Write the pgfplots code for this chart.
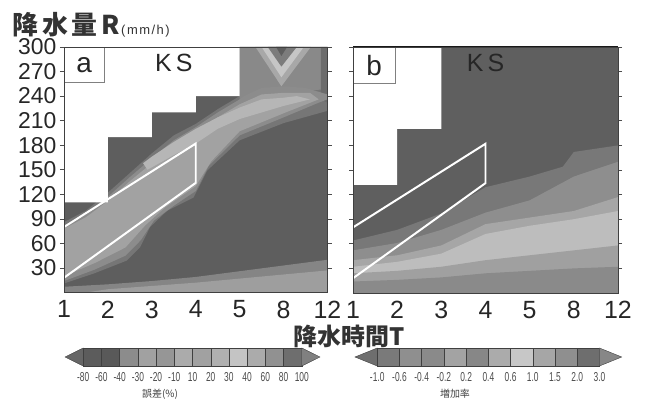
\documentclass[border=0pt]{standalone}
\usepackage{fontspec}
\setmainfont{Liberation Sans}
\newfontfamily\cjk{Noto Sans CJK JP}
\newfontfamily\narrowfont{Liberation Sans}[FakeStretch=0.65]
\usepackage{pgfplots}
\pgfplotsset{compat=1.18}
% panel a greys
\definecolor{aBg}{HTML}{5E5E5E}
\definecolor{aB1}{HTML}{858585}
\definecolor{aB2}{HTML}{9E9E9E}
\definecolor{aL1}{HTML}{767676}
\definecolor{aL2}{HTML}{8C8C8C}
\definecolor{aL3}{HTML}{A2A2A2}
\definecolor{aL4}{HTML}{B6B6B6}
\definecolor{aTop}{HTML}{898989}
\definecolor{aEdge}{HTML}{6C6C6C}
\definecolor{aV1}{HTML}{A8A8A8}
\definecolor{aV2}{HTML}{C6C6C6}
\definecolor{aV3}{HTML}{7C7C7C}
% panel b greys
\definecolor{bBg}{HTML}{5F5F5F}
\definecolor{bL1}{HTML}{787878}
\definecolor{bL2}{HTML}{8E8E8E}
\definecolor{bL3}{HTML}{A6A6A6}
\definecolor{bL4}{HTML}{BDBDBD}
\definecolor{bL5}{HTML}{A0A0A0}
\definecolor{bL6}{HTML}{8A8A8A}
\pgfplotsset{
  panel/.style={
    anchor=south west, scale only axis,
    xmin=0, xmax=6, ymin=0, ymax=300,
    xtick={0,...,6}, xticklabels={1,2,3,4,5,8,12},
    ytick={30,60,...,300},
    tick align=outside, major tick length=4bp,
    xtick style={draw=none},
    ytick style={black!70, line width=0.6pt},
    yticklabel style={font=\fontsize{23}{23}\selectfont, text=black!85},
    xticklabel style={font=\fontsize{25}{25}\selectfont, text=black!85, inner sep=2bp, yshift=-2bp},
    axis line style={black!75, line width=0.8pt},
    axis on top,
  },
  cbar/.style={
    anchor=south west, scale only axis, height=18bp,
    ymin=0, ymax=1, ytick=\empty,
    axis line style={draw=none}, xtick style={draw=none},
    xticklabel style={font=\narrowfont\fontsize{13}{13}\selectfont, text=black!70, yshift=-3bp},
    clip=false,
  },
}
\begin{document}
\begin{tikzpicture}
\useasboundingbox (0,0) rectangle (653bp,403bp);
% ---------------- panel a ----------------
\begin{axis}[panel, at={(64bp,110.5bp)}, width=263.5bp, height=245.5bp,
  yticklabels={30,60,90,120,150,180,210,240,270,300}]
\addplot[fill=aBg, draw=none] coordinates {(0,0)(6,0)(6,300)(0,300)} -- cycle;
\addplot[fill=aB1, draw=none] coordinates {(0,0)(6,0)(6,40)(5,33)(4,26)(3,19)(2,14)(1,10)(0,7)} -- cycle;
\addplot[fill=aB2, draw=none] coordinates {(0.5,0)(6,0)(6,27)(5,22)(4,17)(3,12)(2,8)(1,4)} -- cycle;
\addplot[fill=aL1, draw=none] coordinates {(0,11)(0.67,23)(1.43,39)(1.73,55)(1.96,80)(2.35,100)(2.95,116)(3.26,149)(4,186)(5,207)(6,222)(6,300)(4,300)(4,240)(3.5,224)(3,206)(2.5,192)(2,170)(1.5,146)(1,122)(0.5,100)(0,86)} -- cycle;
\addplot[fill=aTop, draw=none] coordinates {(4,300)(4,236)(4.5,240)(5,244)(5.85,248)(5.85,300)} -- cycle;
\addplot[fill=aEdge, draw=none] coordinates {(5.85,300)(5.85,236)(6,232)(6,300)} -- cycle;
\addplot[fill=aL2, draw=none] coordinates {(0,14)(0.7,28)(1.4,45)(1.75,64)(2.05,88)(2.5,106)(3,124)(3.3,155)(4,192)(5,214)(5.8,232)(6,236)(6,242)(5.5,250)(5,252)(4.5,250)(4.1,240)(4,236)(3.5,220)(3,202)(2.5,186)(2,164)(1.5,141)(1,117)(0.5,96)(0,82)} -- cycle;
\addplot[fill=aL3, draw=none] coordinates {(0,20)(0.7,36)(1.4,55)(1.85,82)(2.3,104)(3,130)(3.35,160)(4,197)(5,219)(5.8,236)(5.6,244)(5,244)(4.5,242)(4,230)(3.5,214)(3,198)(2.5,180)(2,158)(1.5,136)(1,112)(0.5,92)(0,78)} -- cycle;
\addplot[fill=aL4, draw=none] coordinates {(1.9,150)(2.5,168)(3,182)(3.5,200)(4,212)(5,228)(5.6,236)(5.3,240)(5,238)(4.5,236)(4,226)(3.5,214)(3,200)(2.5,184)(2,166)(1.8,158)} -- cycle;
\addplot[fill=aV1, draw=none] coordinates {(4.36,300)(4.95,252)(5.62,300)} -- cycle;
\addplot[fill=aV2, draw=none] coordinates {(4.5,300)(4.95,263)(5.46,300)} -- cycle;
\addplot[fill=aV3, draw=none] coordinates {(4.64,300)(4.95,276)(5.3,300)} -- cycle;
\addplot[fill=aBg, draw=none] coordinates {(4.83,300)(4.95,289)(5.08,300)} -- cycle;
\addplot[fill=white, draw=none] coordinates {(0,300)(0,110)(1,110)(1,190)(2,190)(2,220)(3,220)(3,240)(4,240)(4,300)} -- cycle;
\addplot[white, line width=2pt] coordinates {(0,80)(3,182)(3,134)(0,18)};
\node[draw=black!50, fill=white, anchor=north west, minimum width=40bp, minimum height=35bp, inner sep=0pt, font=\fontsize{28}{28}\selectfont, text=black!85] at (rel axis cs:0,1) {a};
\node[font=\fontsize{25}{25}\selectfont, text=black!85] at (axis cs:2.5,281) {K\,S};
\end{axis}
% ---------------- panel b ----------------
\begin{axis}[panel, at={(353bp,110bp)}, width=265bp, height=246bp,
  yticklabels={}]
\addplot[fill=bBg, draw=none] coordinates {(0,0)(6,0)(6,300)(0,300)} -- cycle;
\addplot[fill=bL1, draw=none] coordinates {(0,0)(6,0)(6,180)(5,172)(4.75,154)(4,142)(3,129)(2,97)(1,77)(0,64)} -- cycle;
\addplot[fill=bL2, draw=none] coordinates {(0,0)(6,0)(6,160)(5,142)(4,113)(3,98)(2,77)(1,61)(0,52)} -- cycle;
\addplot[fill=bL3, draw=none] coordinates {(0,0)(6,0)(6,117)(5,100)(4,92)(3,84)(2,58)(1,46)(0,40)} -- cycle;
\addplot[fill=bL4, draw=none] coordinates {(0,0)(6,0)(6,100)(5,90)(4,82)(3,72)(2,48)(1,38)(0,32)} -- cycle;
\addplot[fill=bL5, draw=none] coordinates {(0,0)(6,0)(6,58)(5,52)(4,46)(3,40)(2,32)(1,27)(0,24)} -- cycle;
\addplot[fill=bL6, draw=none] coordinates {(0,0)(6,0)(6,32)(5,30)(4,27)(3,24)(2,19)(1,16)(0,14)} -- cycle;
\addplot[fill=white, draw=none] coordinates {(0,300)(0,132)(1,132)(1,200)(2,200)(2,300)} -- cycle;
\addplot[white, line width=2pt] coordinates {(0,80)(3,182)(3,134)(0,18)};
\node[draw=black!50, fill=white, anchor=north west, minimum width=42bp, minimum height=36bp, inner sep=0pt, font=\fontsize{28}{28}\selectfont, text=black!85] at (rel axis cs:0,1) {b};
\node[font=\fontsize{25}{25}\selectfont, text=black!85] at (axis cs:3,281) {K\,S};
\draw[black!90, line width=1.6pt] (rel axis cs:0,1) -- (rel axis cs:1,1);
\end{axis}
% ---------------- colour bar a ----------------
\begin{axis}[cbar, at={(65bp,37bp)}, width=255bp, xmin=-1, xmax=13,
  xtick={0,...,12}, xticklabels={-80,-60,-40,-30,-20,-10,10,20,30,40,60,80,100}]
\addplot[fill=black!60, draw=black!75] coordinates {(0,0)(-1,0.5)(0,1)} -- cycle;
\addplot[fill=black!64, draw=black!75] coordinates {(0,0)(1,0)(1,1)(0,1)} -- cycle;
\addplot[fill=black!65, draw=black!75] coordinates {(1,0)(2,0)(2,1)(1,1)} -- cycle;
\addplot[fill=black!45, draw=black!75] coordinates {(2,0)(3,0)(3,1)(2,1)} -- cycle;
\addplot[fill=black!37, draw=black!75] coordinates {(3,0)(4,0)(4,1)(3,1)} -- cycle;
\addplot[fill=black!41, draw=black!75] coordinates {(4,0)(5,0)(5,1)(4,1)} -- cycle;
\addplot[fill=black!33, draw=black!75] coordinates {(5,0)(6,0)(6,1)(5,1)} -- cycle;
\addplot[fill=black!37, draw=black!75] coordinates {(6,0)(7,0)(7,1)(6,1)} -- cycle;
\addplot[fill=black!31, draw=black!75] coordinates {(7,0)(8,0)(8,1)(7,1)} -- cycle;
\addplot[fill=black!23, draw=black!75] coordinates {(8,0)(9,0)(9,1)(8,1)} -- cycle;
\addplot[fill=black!33, draw=black!75] coordinates {(9,0)(10,0)(10,1)(9,1)} -- cycle;
\addplot[fill=black!43, draw=black!75] coordinates {(10,0)(11,0)(11,1)(10,1)} -- cycle;
\addplot[fill=black!57, draw=black!75] coordinates {(11,0)(12,0)(12,1)(11,1)} -- cycle;
\addplot[fill=black!50, draw=black!75] coordinates {(12,0)(13,0.5)(12,1)} -- cycle;
\end{axis}
% ---------------- colour bar b ----------------
\begin{axis}[cbar, at={(355bp,37bp)}, width=266.7bp, xmin=-1, xmax=11,
  xtick={0,...,10}, xticklabels={-1.0,-0.6,-0.4,-0.2,0.2,0.4,0.6,1.0,1.5,2.0,3.0}]
\addplot[fill=black!57, draw=black!75] coordinates {(0,0)(-1,0.5)(0,1)} -- cycle;
\addplot[fill=black!52, draw=black!75] coordinates {(0,0)(1,0)(1,1)(0,1)} -- cycle;
\addplot[fill=black!44, draw=black!75] coordinates {(1,0)(2,0)(2,1)(1,1)} -- cycle;
\addplot[fill=black!46, draw=black!75] coordinates {(2,0)(3,0)(3,1)(2,1)} -- cycle;
\addplot[fill=black!36, draw=black!75] coordinates {(3,0)(4,0)(4,1)(3,1)} -- cycle;
\addplot[fill=black!47, draw=black!75] coordinates {(4,0)(5,0)(5,1)(4,1)} -- cycle;
\addplot[fill=black!33, draw=black!75] coordinates {(5,0)(6,0)(6,1)(5,1)} -- cycle;
\addplot[fill=black!22, draw=black!75] coordinates {(6,0)(7,0)(7,1)(6,1)} -- cycle;
\addplot[fill=black!35, draw=black!75] coordinates {(7,0)(8,0)(8,1)(7,1)} -- cycle;
\addplot[fill=black!44, draw=black!75] coordinates {(8,0)(9,0)(9,1)(8,1)} -- cycle;
\addplot[fill=black!57, draw=black!75] coordinates {(9,0)(10,0)(10,1)(9,1)} -- cycle;
\addplot[fill=black!47, draw=black!75] coordinates {(10,0)(11,0.5)(10,1)} -- cycle;
\end{axis}
% ---------------- texts ----------------
\node[anchor=base west, inner sep=0pt, text=black!80] at (12bp,368bp)
  {{\cjk\bfseries\fontsize{26}{26}\selectfont 降\hspace{4bp}水\hspace{4bp}量\hspace{4bp}R}\hspace{1bp}{\fontsize{13}{13}\selectfont(\hspace{1.5bp}m\hspace{1.5bp}m\hspace{1.5bp}/\hspace{1.5bp}h\hspace{1.5bp})}};
\node[inner sep=0pt, font=\cjk\bfseries\fontsize{24}{24}\selectfont, text=black!80] at (349bp,67bp) {降水時間T};
\node[font=\cjk\fontsize{10}{10}\selectfont, text=black!75] at (160bp,9bp) {誤差(\%)};
\node[font=\cjk\fontsize{10}{10}\selectfont, text=black!75] at (455bp,9bp) {増加率};
\end{tikzpicture}
\end{document}
